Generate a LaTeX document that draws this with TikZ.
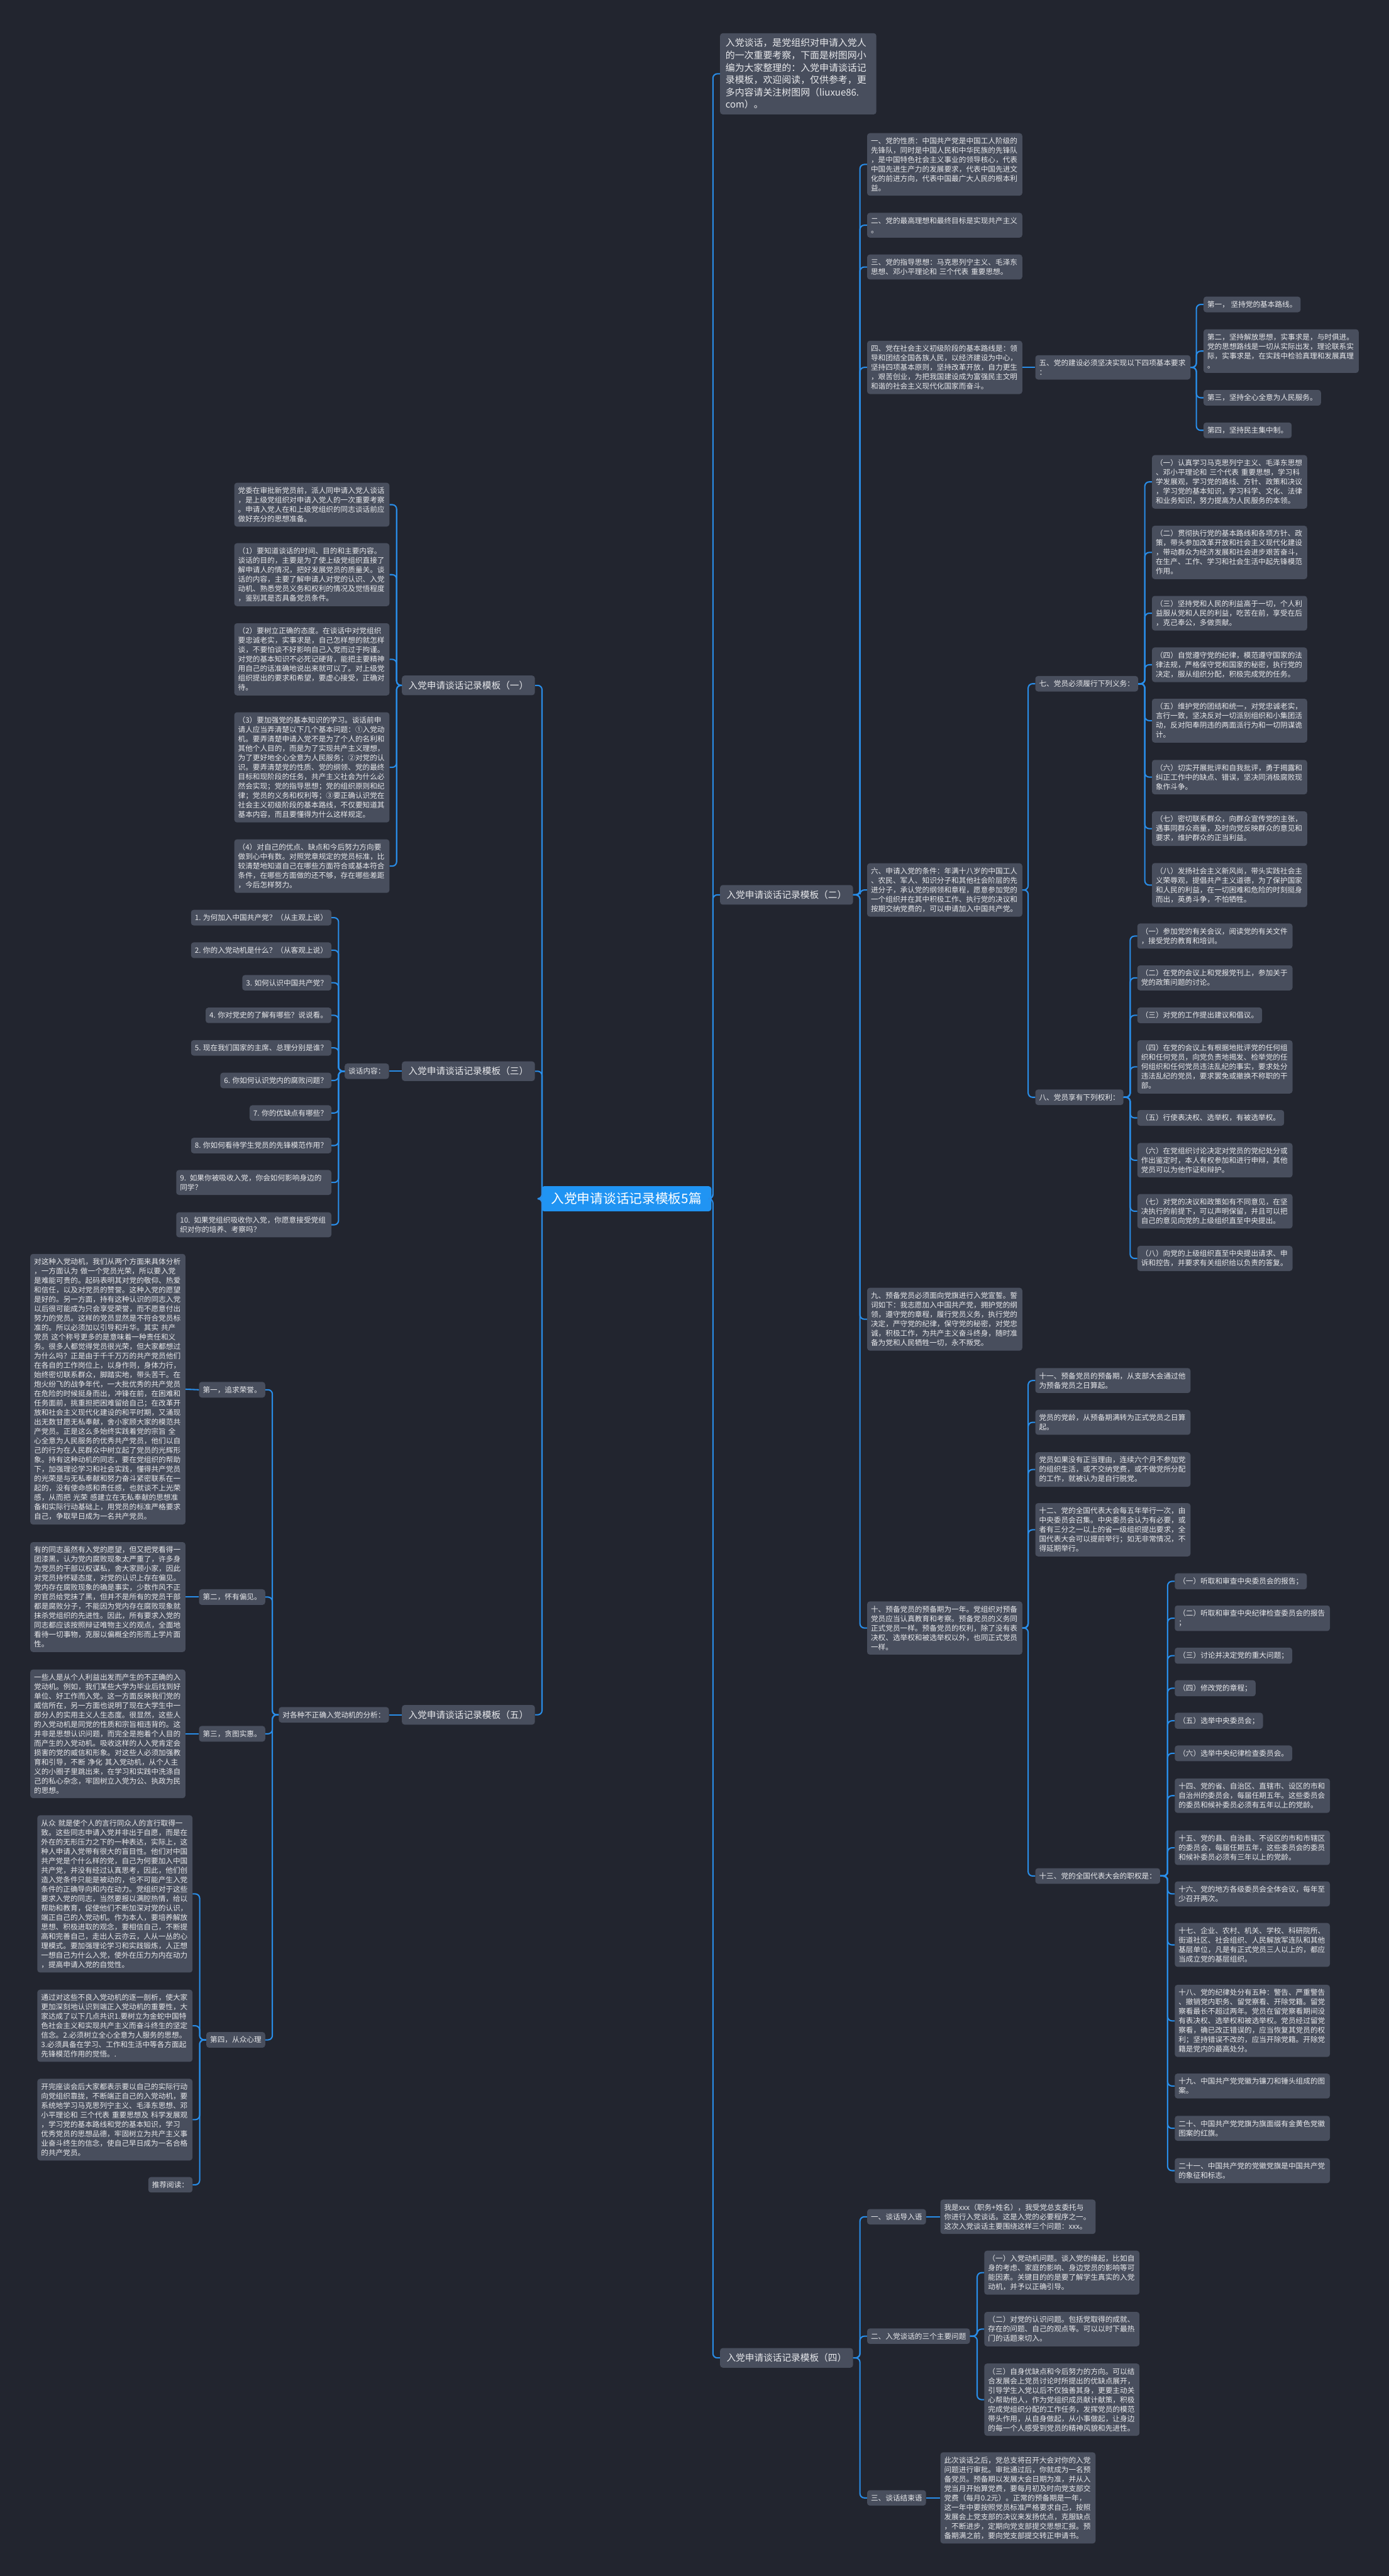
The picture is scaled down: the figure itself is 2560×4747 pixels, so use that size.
\documentclass[tikz,border=0pt]{standalone}
\usepackage{fontspec}
\usepackage{tikz}
\setmainfont{Noto Sans CJK SC}
\definecolor{bgdark}{RGB}{34,37,47}
\definecolor{boxfill}{RGB}{72,78,93}
\definecolor{boxtext}{RGB}{232,233,236}
\definecolor{linkblue}{RGB}{41,141,232}
\definecolor{rootblue}{RGB}{32,148,243}

\begin{document}
\begin{tikzpicture}[
    x=1pt, y=-1pt,
    % Styles for the mind map
    box/.style={rectangle, rounded corners=5pt, fill=boxfill, text=boxtext, align=left,
        inner xsep=7pt, inner ysep=8pt, font=\fontsize{13.5}{17.4}\selectfont},
    para/.style={box, text width=272pt},
    head/.style={box, inner xsep=12pt, inner ysep=10pt, font=\fontsize{17}{22}\selectfont},
    root/.style={box, fill=rootblue, text=white, inner xsep=18pt, inner ysep=12pt,
        font=\fontsize{24}{28}\selectfont},
    link/.style={draw=linkblue, line width=2.4pt, rounded corners=8pt}
]
    % page and background
    \useasboundingbox (0,0) rectangle (2560,4747);
    \fill[bgdark] (0,0) rectangle (2560,4747);

    % =========================================================================
    % 1. ROOT AND FIRST LEVEL
    % =========================================================================
    \node[root] (c0) at (1154.5,2209) {入党申请谈话记录模板5篇};

    \node[box, anchor=west, text width=268pt, inner xsep=10pt, inner ysep=10pt,
        font=\fontsize{17.3}{22.7}\selectfont] (intro) at (1327,136)
        {入党谈话，是党组织对申请入党人\\的一次重要考察，下面是树图网小\\编为大家整理的：入党申请谈话记\\录模板，欢迎阅读，仅供参考，更\\多内容请关注树图网（liuxue86.\\com）。};
    \node[head, anchor=west] (t2) at (1327,1649) {入党申请谈话记录模板（二）};
    \node[head, anchor=west] (t4) at (1327,4345) {入党申请谈话记录模板（四）};
    \node[head, anchor=east] (t1) at (986,1263) {入党申请谈话记录模板（一）};
    \node[head, anchor=east] (t3) at (986,1974) {入党申请谈话记录模板（三）};
    \node[head, anchor=east] (t5) at (986,3160) {入党申请谈话记录模板（五）};

    % =========================================================================
    % 2. TEMPLATE (2): PARTY BASICS
    % =========================================================================
    \node[para, anchor=west] (xz) at (1598,303) {一、党的性质：中国共产党是中国工人阶级的\\先锋队，同时是中国人民和中华民族的先锋队\\，是中国特色社会主义事业的领导核心，代表\\中国先进生产力的发展要求，代表中国先进文\\化的前进方向，代表中国最广大人民的根本利\\益。};
    \node[para, anchor=west] (lx) at (1598,415) {二、党的最高理想和最终目标是实现共产主义\\。};
    \node[para, anchor=west] (zd) at (1598,492) {三、党的指导思想：马克思列宁主义、毛泽东\\思想、邓小平理论和 三个代表 重要思想。};
    \node[para, anchor=west] (lu) at (1598,677) {四、党在社会主义初级阶段的基本路线是：领\\导和团结全国各族人民，以经济建设为中心，\\坚持四项基本原则，坚持改革开放，自力更生\\，艰苦创业，为把我国建设成为富强民主文明\\和谐的社会主义现代化国家而奋斗。};
    \node[para, anchor=west] (tj) at (1598,1640) {六、申请入党的条件：年满十八岁的中国工人\\、农民、军人、知识分子和其他社会阶层的先\\进分子，承认党的纲领和章程，愿意参加党的\\一个组织并在其中积极工作、执行党的决议和\\按期交纳党费的，可以申请加入中国共产党。};
    \node[para, anchor=west] (xs) at (1598,2431) {九、预备党员必须面向党旗进行入党宣誓。誓\\词如下：我志愿加入中国共产党，拥护党的纲\\领，遵守党的章程，履行党员义务，执行党的\\决定，严守党的纪律，保守党的秘密，对党忠\\诚，积极工作，为共产主义奋斗终身，随时准\\备为党和人民牺牲一切，永不叛党。};
    \node[para, anchor=west] (yb) at (1598,3000) {十、预备党员的预备期为一年。党组织对预备\\党员应当认真教育和考察。预备党员的义务同\\正式党员一样。预备党员的权利，除了没有表\\决权、选举权和被选举权以外，也同正式党员\\一样。};

    % building requirements
    \node[para, anchor=west] (js) at (1908,677) {五、党的建设必须坚决实现以下四项基本要求\\：};
    \node[box, anchor=west] (js1) at (2218,561) {第一， 坚持党的基本路线。};
    \node[para, anchor=west] (js2) at (2218,647) {第二，坚持解放思想，实事求是，与时俱进。\\党的思想路线是一切从实际出发，理论联系实\\际，实事求是，在实践中检验真理和发展真理\\。};
    \node[box, anchor=west] (js3) at (2218,733) {第三，坚持全心全意为人民服务。};
    \node[box, anchor=west] (js4) at (2218,793) {第四，坚持民主集中制。};

    % duties
    \node[box, anchor=west] (yw) at (1908,1260) {七、党员必须履行下列义务：};
    \node[para, anchor=west] (yw1) at (2123,888) {（一）认真学习马克思列宁主义、毛泽东思想\\、邓小平理论和 三个代表 重要思想，学习科\\学发展观，学习党的路线、方针、政策和决议\\，学习党的基本知识，学习科学、文化、法律\\和业务知识，努力提高为人民服务的本领。};
    \node[para, anchor=west] (yw2) at (2123,1018) {（二）贯彻执行党的基本路线和各项方针、政\\策，带头参加改革开放和社会主义现代化建设\\，带动群众为经济发展和社会进步艰苦奋斗，\\在生产、工作、学习和社会生活中起先锋模范\\作用。};
    \node[para, anchor=west] (yw3) at (2123,1130) {（三）坚持党和人民的利益高于一切，个人利\\益服从党和人民的利益，吃苦在前，享受在后\\，克己奉公，多做贡献。};
    \node[para, anchor=west] (yw4) at (2123,1225) {（四）自觉遵守党的纪律，模范遵守国家的法\\律法规，严格保守党和国家的秘密，执行党的\\决定，服从组织分配，积极完成党的任务。};
    \node[para, anchor=west] (yw5) at (2123,1328) {（五）维护党的团结和统一，对党忠诚老实，\\言行一致，坚决反对一切派别组织和小集团活\\动，反对阳奉阴违的两面派行为和一切阴谋诡\\计。};
    \node[para, anchor=west] (yw6) at (2123,1432) {（六）切实开展批评和自我批评，勇于揭露和\\纠正工作中的缺点、错误，坚决同消极腐败现\\象作斗争。};
    \node[para, anchor=west] (yw7) at (2123,1527) {（七）密切联系群众，向群众宣传党的主张，\\遇事同群众商量，及时向党反映群众的意见和\\要求，维护群众的正当利益。};
    \node[para, anchor=west] (yw8) at (2123,1631) {（八）发扬社会主义新风尚，带头实践社会主\\义荣辱观，提倡共产主义道德，为了保护国家\\和人民的利益，在一切困难和危险的时刻挺身\\而出，英勇斗争，不怕牺牲。};

    % rights
    \node[box, anchor=west] (ql) at (1908,2022) {八、党员享有下列权利：};
    \node[para, anchor=west] (ql1) at (2096,1725) {（一）参加党的有关会议，阅读党的有关文件\\，接受党的教育和培训。};
    \node[para, anchor=west] (ql2) at (2096,1802) {（二）在党的会议上和党报党刊上，参加关于\\党的政策问题的讨论。};
    \node[box, anchor=west] (ql3) at (2096,1871) {（三）对党的工作提出建议和倡议。};
    \node[para, anchor=west] (ql4) at (2096,1966) {（四）在党的会议上有根据地批评党的任何组\\织和任何党员，向党负责地揭发、检举党的任\\何组织和任何党员违法乱纪的事实，要求处分\\违法乱纪的党员，要求罢免或撤换不称职的干\\部。};
    \node[box, anchor=west] (ql5) at (2096,2060) {（五）行使表决权、选举权，有被选举权。};
    \node[para, anchor=west] (ql6) at (2096,2138) {（六）在党组织讨论决定对党员的党纪处分或\\作出鉴定时，本人有权参加和进行申辩，其他\\党员可以为他作证和辩护。};
    \node[para, anchor=west] (ql7) at (2096,2232) {（七）对党的决议和政策如有不同意见，在坚\\决执行的前提下，可以声明保留，并且可以把\\自己的意见向党的上级组织直至中央提出。};
    \node[para, anchor=west] (ql8) at (2096,2319) {（八）向党的上级组织直至中央提出请求、申\\诉和控告，并要求有关组织给以负责的答复。};

    % probation and congress
    \node[para, anchor=west] (yb1) at (1908,2544) {十一、预备党员的预备期，从支部大会通过他\\为预备党员之日算起。};
    \node[para, anchor=west] (dl) at (1908,2621) {党员的党龄，从预备期满转为正式党员之日算\\起。};
    \node[para, anchor=west] (td) at (1908,2708) {党员如果没有正当理由，连续六个月不参加党\\的组织生活，或不交纳党费，或不做党所分配\\的工作，就被认为是自行脱党。};
    \node[para, anchor=west] (dh) at (1908,2819) {十二、党的全国代表大会每五年举行一次，由\\中央委员会召集。中央委员会认为有必要，或\\者有三分之一以上的省一级组织提出要求，全\\国代表大会可以提前举行；如无非常情况，不\\得延期举行。};
    \node[box, anchor=west] (zq) at (1908,3457) {十三、党的全国代表大会的职权是：};
    \node[box, anchor=west] (zq1) at (2165,2914) {（一）听取和审查中央委员会的报告；};
    \node[para, anchor=west] (zq2) at (2165,2982) {（二）听取和审查中央纪律检查委员会的报告\\；};
    \node[box, anchor=west] (zq3) at (2165,3051) {（三）讨论并决定党的重大问题；};
    \node[box, anchor=west] (zq4) at (2165,3111) {（四）修改党的章程；};
    \node[box, anchor=west] (zq5) at (2165,3171) {（五）选举中央委员会；};
    \node[box, anchor=west] (zq6) at (2165,3231) {（六）选举中央纪律检查委员会。};
    \node[para, anchor=west] (zq7) at (2165,3309) {十四、党的省、自治区、直辖市、设区的市和\\自治州的委员会，每届任期五年。这些委员会\\的委员和候补委员必须有五年以上的党龄。};
    \node[para, anchor=west] (zq8) at (2165,3405) {十五、党的县、自治县、不设区的市和市辖区\\的委员会，每届任期五年，这些委员会的委员\\和候补委员必须有三年以上的党龄。};
    \node[para, anchor=west] (zq9) at (2165,3490) {十六、党的地方各级委员会全体会议，每年至\\少召开两次。};
    \node[para, anchor=west] (zq10) at (2165,3584) {十七、企业、农村、机关、学校、科研院所、\\街道社区、社会组织、人民解放军连队和其他\\基层单位，凡是有正式党员三人以上的，都应\\当成立党的基层组织。};
    \node[para, anchor=west] (zq11) at (2165,3724) {十八、党的纪律处分有五种：警告、严重警告\\、撤销党内职务、留党察看、开除党籍。留党\\察看最长不超过两年。党员在留党察看期间没\\有表决权、选举权和被选举权。党员经过留党\\察看，确已改正错误的，应当恢复其党员的权\\利；坚持错误不改的，应当开除党籍。开除党\\籍是党内的最高处分。};
    \node[para, anchor=west] (zq12) at (2165,3844) {十九、中国共产党党徽为镰刀和锤头组成的图\\案。};
    \node[para, anchor=west] (zq13) at (2165,3922) {二十、中国共产党党旗为旗面缀有金黄色党徽\\图案的红旗。};
    \node[para, anchor=west] (zq14) at (2165,4000) {二十一、中国共产党的党徽党旗是中国共产党\\的象征和标志。};

    % =========================================================================
    % 3. TEMPLATE (4): TALK OUTLINE
    % =========================================================================
    \node[box, anchor=west] (dr) at (1598,4085) {一、谈话导入语};
    \node[para, anchor=west] (drt) at (1733,4085) {我是xxx（职务+姓名），我受党总支委托与\\你进行入党谈话。这是入党的必要程序之一。\\这次入党谈话主要围绕这样三个问题：xxx。};
    \node[box, anchor=west] (wt) at (1598,4305) {二、入党谈话的三个主要问题};
    \node[para, anchor=west] (wt1) at (1814,4188) {（一）入党动机问题。谈入党的缘起，比如自\\身的考虑、家庭的影响、身边党员的影响等可\\能因素。关键目的的是要了解学生真实的入党\\动机，并予以正确引导。};
    \node[para, anchor=west] (wt2) at (1814,4292) {（二）对党的认识问题。包括党取得的成就、\\存在的问题、自己的观点等。可以以时下最热\\门的话题来切入。};
    \node[para, anchor=west] (wt3) at (1814,4422) {（三）自身优缺点和今后努力的方向。可以结\\合发展会上党员讨论时所提出的优缺点展开，\\引导学生入党以后不仅独善其身，更要主动关\\心帮助他人，作为党组织成员献计献策，积极\\完成党组织分配的工作任务，发挥党员的模范\\带头作用，从自身做起，从小事做起，让身边\\的每一个人感受到党员的精神风貌和先进性。};
    \node[box, anchor=west] (jsy) at (1598,4603) {三、谈话结束语};
    \node[para, anchor=west] (jsyt) at (1733,4603) {此次谈话之后，党总支将召开大会对你的入党\\问题进行审批。审批通过后，你就成为一名预\\备党员。预备期以发展大会日期为准，并从入\\党当月开始算党费，要每月初及时向党支部交\\党费（每月0.2元）。正常的预备期是一年，\\这一年中要按照党员标准严格要求自己，按照\\发展会上党支部的决议来发扬优点，克服缺点\\，不断进步，定期向党支部提交思想汇报。预\\备期满之前，要向党支部提交转正申请书。};

    % =========================================================================
    % 4. TEMPLATE (1): PREPARING FOR THE TALK
    % =========================================================================
    \node[para, anchor=east] (yi0) at (718,930) {党委在审批新党员前，派人同申请入党人谈话\\，是上级党组织对申请入党人的一次重要考察\\。申请入党人在和上级党组织的同志谈话前应\\做好充分的思想准备。};
    \node[para, anchor=east] (yi1) at (718,1059) {（1）要知道谈话的时间、目的和主要内容。\\谈话的目的，主要是为了使上级党组织直接了\\解申请人的情况，把好发展党员的质量关。谈\\话的内容，主要了解申请人对党的认识、入党\\动机、熟悉党员义务和权利的情况及觉悟程度\\，鉴别其是否具备党员条件。};
    \node[para, anchor=east] (yi2) at (718,1215) {（2）要树立正确的态度。在谈话中对党组织\\要忠诚老实，实事求是，自己怎样想的就怎样\\谈，不要怕谈不好影响自己入党而过于拘谨。\\对党的基本知识不必死记硬背，能把主要精神\\用自己的话准确地说出来就可以了。对上级党\\组织提出的要求和希望，要虚心接受，正确对\\待。};
    \node[para, anchor=east] (yi3) at (718,1414) {（3）要加强党的基本知识的学习。谈话前申\\请人应当弄清楚以下几个基本问题：①入党动\\机。要弄清楚申请入党不是为了个人的名利和\\其他个人目的，而是为了实现共产主义理想，\\为了更好地全心全意为人民服务；②对党的认\\识。要弄清楚党的性质、党的纲领、党的最终\\目标和现阶段的任务，共产主义社会为什么必\\然会实现；党的指导思想；党的组织原则和纪\\律；党员的义务和权利等；③要正确认识党在\\社会主义初级阶段的基本路线，不仅要知道其\\基本内容，而且要懂得为什么这样规定。};
    \node[para, anchor=east] (yi4) at (718,1596) {（4）对自己的优点、缺点和今后努力方向要\\做到心中有数。对照党章规定的党员标准，比\\较清楚地知道自己在哪些方面符合或基本符合\\条件，在哪些方面做的还不够，存在哪些差距\\，今后怎样努力。};

    % =========================================================================
    % 5. TEMPLATE (3): QUESTIONS
    % =========================================================================
    \node[box, anchor=east] (nr) at (717,1974) {谈话内容：};
    \node[box, anchor=east] (q1) at (611,1691) {1. 为何加入中国共产党？（从主观上说）};
    \node[box, anchor=east] (q2) at (611,1751) {2. 你的入党动机是什么？（从客观上说）};
    \node[box, anchor=east] (q3) at (611,1811) {3. 如何认识中国共产党？};
    \node[box, anchor=east] (q4) at (611,1871) {4. 你对党史的了解有哪些？说说看。};
    \node[box, anchor=east] (q5) at (611,1931) {5. 现在我们国家的主席、总理分别是谁？};
    \node[box, anchor=east] (q6) at (611,1991) {6. 你如何认识党内的腐败问题？};
    \node[box, anchor=east] (q7) at (611,2051) {7. 你的优缺点有哪些？};
    \node[box, anchor=east] (q8) at (611,2111) {8. 你如何看待学生党员的先锋模范作用？};
    \node[para, anchor=east] (q9) at (611,2179) {9. 如果你被吸收入党，你会如何影响身边的\\同学？};
    \node[para, anchor=east] (q10) at (611,2257) {10. 如果党组织吸收你入党，你愿意接受党组\\织对你的培养、考察吗？};

    % =========================================================================
    % 6. TEMPLATE (5): MOTIVES
    % =========================================================================
    \node[box, anchor=east] (fx) at (717,3160) {对各种不正确入党动机的分析：};
    \node[box, anchor=east] (dj1) at (489,2561) {第一，追求荣誉。};
    \node[box, anchor=east] (dj2) at (489,2943) {第二，怀有偏见。};
    \node[box, anchor=east] (dj3) at (489,3195) {第三，贪图实惠。};
    \node[box, anchor=east] (dj4) at (489,3759) {第四，从众心理};
    \node[para, anchor=east] (dj1t) at (342,2560) {对这种入党动机，我们从两个方面来具体分析\\，一方面认为 做一个党员光荣，所以要入党\\是难能可贵的。起码表明其对党的敬仰、热爱\\和信任，以及对党员的赞誉。这种入党的愿望\\是好的。另一方面，持有这种认识的同志入党\\以后很可能成为只会享受荣誉，而不愿意付出\\努力的党员。这样的党员显然是不符合党员标\\准的。所以必须加以引导和升华。其实 共产\\党员 这个称号更多的是意味着一种责任和义\\务。很多人都觉得党员很光荣，但大家都想过\\为什么吗？正是由于千千万万的共产党员他们\\在各自的工作岗位上，以身作则，身体力行，\\始终密切联系群众，脚踏实地，带头苦干。在\\炮火纷飞的战争年代，一大批优秀的共产党员\\在危险的时候挺身而出，冲锋在前，在困难和\\任务面前，挑重担把困难留给自己；在改革开\\放和社会主义现代化建设的和平时期，又涌现\\出无数甘愿无私奉献，舍小家顾大家的模范共\\产党员。正是这么多始终实践着党的宗旨 全\\心全意为人民服务的优秀共产党员，他们以自\\己的行为在人民群众中树立起了党员的光辉形\\象。持有这种动机的同志，要在党组织的帮助\\下，加强理论学习和社会实践，懂得共产党员\\的光荣是与无私奉献和努力奋斗紧密联系在一\\起的，没有使命感和责任感，也就谈不上光荣\\感，从而把 光荣 感建立在无私奉献的思想准\\备和实际行动基础上，用党员的标准严格要求\\自己，争取早日成为一名共产党员。};
    \node[para, anchor=east] (dj2t) at (342,2943) {有的同志虽然有入党的愿望，但又把党看得一\\团漆黑，认为党内腐败现象太严重了，许多身\\为党员的干部以权谋私，舍大家顾小家，因此\\对党员持怀疑态度，对党的认识上存在偏见。\\党内存在腐败现象的确是事实，少数作风不正\\的官员给党抹了黑，但并不是所有的党员干部\\都是腐败分子，不能因为党内存在腐败现象就\\抹杀党组织的先进性。因此，所有要求入党的\\同志都应该按照辩证唯物主义的观点，全面地\\看待一切事物，克服以偏概全的形而上学片面\\性。};
    \node[para, anchor=east] (dj3t) at (342,3195) {一些人是从个人利益出发而产生的不正确的入\\党动机。例如，我们某些大学为毕业后找到好\\单位、好工作而入党。这一方面反映我们党的\\威信所在，另一方面也说明了现在大学生中一\\部分人的实用主义人生态度。很显然，这些人\\的入党动机是同党的性质和宗旨相违背的。这\\并非是思想认识问题，而完全是抱着个人目的\\而产生的入党动机。吸收这样的人入党肯定会\\损害的党的威信和形象。对这些人必须加强教\\育和引导，不断 净化 其入党动机，从个人主\\义的小圈子里跳出来，在学习和实践中洗涤自\\己的私心杂念，牢固树立入党为公、执政为民\\的思想。};
    \node[para, anchor=east] (dj4a) at (355,3490) {从众 就是使个人的言行同众人的言行取得一\\致。这些同志申请入党并非出于自愿，而是在\\外在的无形压力之下的一种表达，实际上，这\\种人申请入党带有很大的盲目性。他们对中国\\共产党是个什么样的党，自己为何要加入中国\\共产党，并没有经过认真思考，因此，他们创\\造入党条件只能是被动的，也不可能产生入党\\条件的正确导向和内在动力。党组织对于这些\\要求入党的同志，当然要报以满腔热情，给以\\帮助和教育，促使他们不断加深对党的认识，\\端正自己的入党动机。作为本人，要培养解放\\思想、积极进取的观念，要相信自己，不断提\\高和完善自己，走出人云亦云，人从一丛的心\\理模式。要加强理论学习和实践锻炼，人正想\\一想自己为什么入党，使外在压力为内在动力\\，提高申请入党的自觉性。};
    \node[para, anchor=east] (dj4b) at (355,3733) {通过对这些不良入党动机的逐一剖析，使大家\\更加深刻地认识到端正入党动机的重要性，大\\家达成了以下几点共识1.要树立为金蛇中国特\\色社会主义和实现共产主义而奋斗终生的坚定\\信念。2.必须树立全心全意为人服务的思想。\\3.必须具备在学习、工作和生活中等各方面起\\先锋模范作用的觉悟。.};
    \node[para, anchor=east] (dj4c) at (355,3906) {开完座谈会后大家都表示要以自己的实际行动\\向党组织靠拢，不断端正自己的入党动机，要\\系统地学习马克思列宁主义、毛泽东思想、邓\\小平理论和 三个代表 重要思想及 科学发展观\\，学习党的基本路线和党的基本知识，学习\\优秀党员的思想品德，牢固树立为共产主义事\\业奋斗终生的信念，使自己早日成为一名合格\\的共产党员。};
    \node[box, anchor=east] (tjyd) at (355,4026) {推荐阅读：};

    % =========================================================================
    % 7. CONNECTORS
    % =========================================================================
    % right side
    \foreach \c in {intro,t2,t4}
        \draw[link] (c0.east) -- ([xshift=-13pt]\c.west |- c0.east) |- (\c.west);
    \foreach \c in {xz,lx,zd,lu,tj,xs,yb}
        \draw[link] (t2.east) -- ([xshift=-13pt]\c.west |- t2.east) |- (\c.west);
    \draw[link] (lu.east) -- (js.west);
    \foreach \c in {js1,js2,js3,js4}
        \draw[link] (js.east) -- ([xshift=-13pt]\c.west |- js.east) |- (\c.west);
    \foreach \c in {yw,ql}
        \draw[link] (tj.east) -- ([xshift=-13pt]\c.west |- tj.east) |- (\c.west);
    \foreach \c in {yw1,yw2,yw3,yw4,yw5,yw6,yw7,yw8}
        \draw[link] (yw.east) -- ([xshift=-13pt]\c.west |- yw.east) |- (\c.west);
    \foreach \c in {ql1,ql2,ql3,ql4,ql5,ql6,ql7,ql8}
        \draw[link] (ql.east) -- ([xshift=-13pt]\c.west |- ql.east) |- (\c.west);
    \foreach \c in {yb1,dl,td,dh,zq}
        \draw[link] (yb.east) -- ([xshift=-13pt]\c.west |- yb.east) |- (\c.west);
    \foreach \c in {zq1,zq2,zq3,zq4,zq5,zq6,zq7,zq8,zq9,zq10,zq11,zq12,zq13,zq14}
        \draw[link] (zq.east) -- ([xshift=-13pt]\c.west |- zq.east) |- (\c.west);
    \foreach \c in {dr,wt,jsy}
        \draw[link] (t4.east) -- ([xshift=-13pt]\c.west |- t4.east) |- (\c.west);
    \draw[link] (dr.east) -- (drt.west);
    \draw[link] (jsy.east) -- (jsyt.west);
    \foreach \c in {wt1,wt2,wt3}
        \draw[link] (wt.east) -- ([xshift=-13pt]\c.west |- wt.east) |- (\c.west);

    % left side
    \foreach \c in {t1,t3,t5}
        \draw[link] (c0.west) -- ([xshift=13pt]\c.east |- c0.west) |- (\c.east);
    \foreach \c in {yi0,yi1,yi2,yi3,yi4}
        \draw[link] (t1.west) -- ([xshift=13pt]\c.east |- t1.west) |- (\c.east);
    \draw[link] (t3.west) -- (nr.east);
    \foreach \c in {q1,q2,q3,q4,q5,q6,q7,q8,q9,q10}
        \draw[link] (nr.west) -- ([xshift=13pt]\c.east |- nr.west) |- (\c.east);
    \draw[link] (t5.west) -- (fx.east);
    \foreach \c in {dj1,dj2,dj3,dj4}
        \draw[link] (fx.west) -- ([xshift=13pt]\c.east |- fx.west) |- (\c.east);
    \draw[link] (dj1.west) -- (dj1t.east);
    \draw[link] (dj2.west) -- (dj2t.east);
    \draw[link] (dj3.west) -- (dj3t.east);
    \foreach \c in {dj4a,dj4b,dj4c,tjyd}
        \draw[link] (dj4.west) -- ([xshift=13pt]\c.east |- dj4.west) |- (\c.east);
\end{tikzpicture}
\end{document}
